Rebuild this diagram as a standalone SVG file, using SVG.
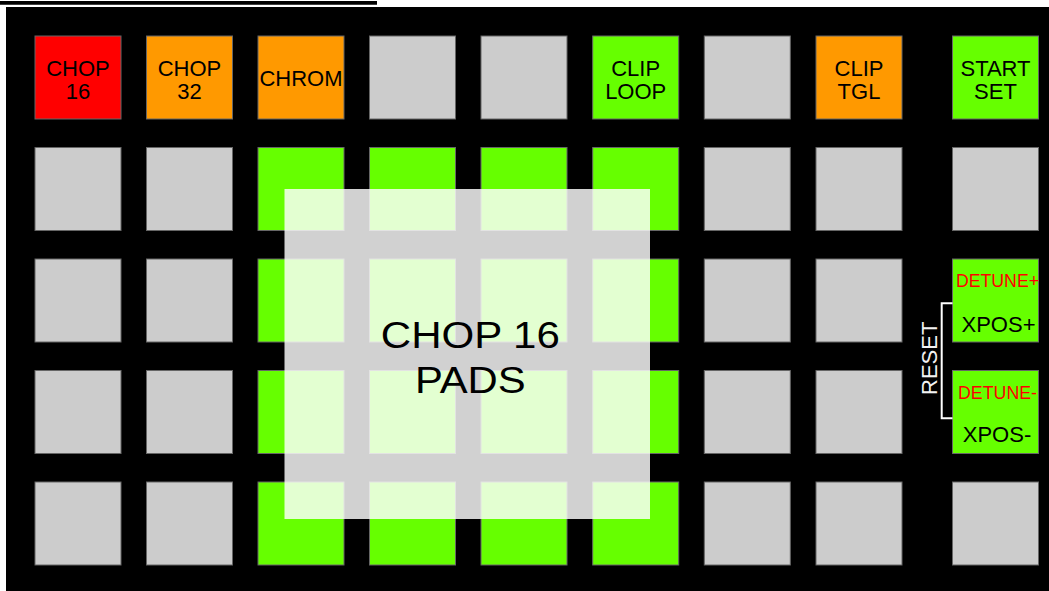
<svg xmlns="http://www.w3.org/2000/svg" width="1049" height="591" viewBox="0 0 1049 591">
<style>
.pad{stroke:#666;stroke-width:1}
.g{fill:#cccccc}
.gr{fill:#66ff00}
.or{fill:#ff9900}
.rd{fill:#ff0000}
.lbl{font-family:"Liberation Sans",Arial,sans-serif;font-size:22px;fill:#000;text-anchor:middle}
.det{font-family:"Liberation Sans",Arial,sans-serif;font-size:18px;fill:#ff0000;text-anchor:middle}
.big{font-family:"Liberation Sans",Arial,sans-serif;font-size:37px;fill:#000;text-anchor:middle}
</style>
<rect width="1049" height="591" fill="#fff"/>
<line x1="0" y1="2.9" x2="377" y2="2.9" stroke="#000" stroke-width="3.6"/>
<rect x="6" y="7" width="1043" height="584" fill="#000"/>
<g id="row1">
<g id="p-chop16"><rect class="pad rd" x="35" y="36" width="86" height="83"/><text class="lbl" x="78" y="76">CHOP</text><text class="lbl" x="78" y="98.5">16</text></g>
<g id="p-chop32"><rect class="pad or" x="146.5" y="36" width="86" height="83"/><text class="lbl" x="189.5" y="76">CHOP</text><text class="lbl" x="189.5" y="98.5">32</text></g>
<g id="p-chrom"><rect class="pad or" x="258" y="36" width="86" height="83"/><text class="lbl" x="301" y="86" textLength="83" lengthAdjust="spacingAndGlyphs">CHROM</text></g>
<g id="p-r1c4"><rect class="pad g" x="369.5" y="36" width="86" height="83"/></g>
<g id="p-r1c5"><rect class="pad g" x="481" y="36" width="86" height="83"/></g>
<g id="p-cliploop"><rect class="pad gr" x="592.7" y="36" width="86" height="83"/><text class="lbl" x="635.7" y="75.5">CLIP</text><text class="lbl" x="635.7" y="98.5">LOOP</text></g>
<g id="p-r1c7"><rect class="pad g" x="704.3" y="36" width="86" height="83"/></g>
<g id="p-cliptgl"><rect class="pad or" x="816" y="36" width="86" height="83"/><text class="lbl" x="859" y="75.5">CLIP</text><text class="lbl" x="859" y="98.5">TGL</text></g>
<g id="p-startset"><rect class="pad gr" x="952.5" y="36" width="86" height="83"/><text class="lbl" x="995.5" y="75.5">START</text><text class="lbl" x="995.5" y="98.5">SET</text></g>
</g>
<g id="grid">
<g id="p-r2c1"><rect class="pad g" x="35" y="147.5" width="86" height="83"/></g>
<g id="p-r2c2"><rect class="pad g" x="146.5" y="147.5" width="86" height="83"/></g>
<g id="p-r2c3"><rect class="pad gr" x="258" y="147.5" width="86" height="83"/></g>
<g id="p-r2c4"><rect class="pad gr" x="369.5" y="147.5" width="86" height="83"/></g>
<g id="p-r2c5"><rect class="pad gr" x="481" y="147.5" width="86" height="83"/></g>
<g id="p-r2c6"><rect class="pad gr" x="592.7" y="147.5" width="86" height="83"/></g>
<g id="p-r2c7"><rect class="pad g" x="704.3" y="147.5" width="86" height="83"/></g>
<g id="p-r2c8"><rect class="pad g" x="816" y="147.5" width="86" height="83"/></g>
<g id="p-r2c9"><rect class="pad g" x="952.5" y="147.5" width="86" height="83"/></g>

<g id="p-r3c1"><rect class="pad g" x="35" y="259" width="86" height="83"/></g>
<g id="p-r3c2"><rect class="pad g" x="146.5" y="259" width="86" height="83"/></g>
<g id="p-r3c3"><rect class="pad gr" x="258" y="259" width="86" height="83"/></g>
<g id="p-r3c4"><rect class="pad gr" x="369.5" y="259" width="86" height="83"/></g>
<g id="p-r3c5"><rect class="pad gr" x="481" y="259" width="86" height="83"/></g>
<g id="p-r3c6"><rect class="pad gr" x="592.7" y="259" width="86" height="83"/></g>
<g id="p-r3c7"><rect class="pad g" x="704.3" y="259" width="86" height="83"/></g>
<g id="p-r3c8"><rect class="pad g" x="816" y="259" width="86" height="83"/></g>
<g id="p-xposplus"><rect class="pad gr" x="952.5" y="259" width="86" height="83"/><text class="det" x="997.5" y="286.5" textLength="83" lengthAdjust="spacingAndGlyphs">DETUNE+</text><text class="lbl" x="998.5" y="331.5">XPOS+</text></g>

<g id="p-r4c1"><rect class="pad g" x="35" y="370.5" width="86" height="83"/></g>
<g id="p-r4c2"><rect class="pad g" x="146.5" y="370.5" width="86" height="83"/></g>
<g id="p-r4c3"><rect class="pad gr" x="258" y="370.5" width="86" height="83"/></g>
<g id="p-r4c4"><rect class="pad gr" x="369.5" y="370.5" width="86" height="83"/></g>
<g id="p-r4c5"><rect class="pad gr" x="481" y="370.5" width="86" height="83"/></g>
<g id="p-r4c6"><rect class="pad gr" x="592.7" y="370.5" width="86" height="83"/></g>
<g id="p-r4c7"><rect class="pad g" x="704.3" y="370.5" width="86" height="83"/></g>
<g id="p-r4c8"><rect class="pad g" x="816" y="370.5" width="86" height="83"/></g>
<g id="p-xposminus"><rect class="pad gr" x="952.5" y="370.5" width="86" height="83"/><text class="det" x="997.5" y="398.5" textLength="79" lengthAdjust="spacingAndGlyphs">DETUNE-</text><text class="lbl" x="997" y="442">XPOS-</text></g>

<g id="p-r5c1"><rect class="pad g" x="35" y="482" width="86" height="83"/></g>
<g id="p-r5c2"><rect class="pad g" x="146.5" y="482" width="86" height="83"/></g>
<g id="p-r5c3"><rect class="pad gr" x="258" y="482" width="86" height="83"/></g>
<g id="p-r5c4"><rect class="pad gr" x="369.5" y="482" width="86" height="83"/></g>
<g id="p-r5c5"><rect class="pad gr" x="481" y="482" width="86" height="83"/></g>
<g id="p-r5c6"><rect class="pad gr" x="592.7" y="482" width="86" height="83"/></g>
<g id="p-r5c7"><rect class="pad g" x="704.3" y="482" width="86" height="83"/></g>
<g id="p-r5c8"><rect class="pad g" x="816" y="482" width="86" height="83"/></g>
<g id="p-r5c9"><rect class="pad g" x="952.5" y="482" width="86" height="83"/></g>
</g>
<g id="chop16-overlay">
<rect x="284.5" y="189" width="365.5" height="330" fill="#fff" fill-opacity="0.82"/>
<text class="big" x="470.3" y="348.3" textLength="179" lengthAdjust="spacingAndGlyphs">CHOP 16</text>
<text class="big" x="470.3" y="393.3" textLength="110.7" lengthAdjust="spacingAndGlyphs">PADS</text>
</g>
<g id="connectors">
<path d="M952.5 303.3 H941.7 V418.3 H952.5" fill="none" stroke="#fff" stroke-width="2"/>
</g>
<g id="reset-label">
<text x="0" y="0" transform="translate(936.7,358.3) rotate(-90)" font-family="Liberation Sans, Arial, sans-serif" font-size="22" fill="#f2f2f2" text-anchor="middle">RESET</text>
</g>
</svg>
